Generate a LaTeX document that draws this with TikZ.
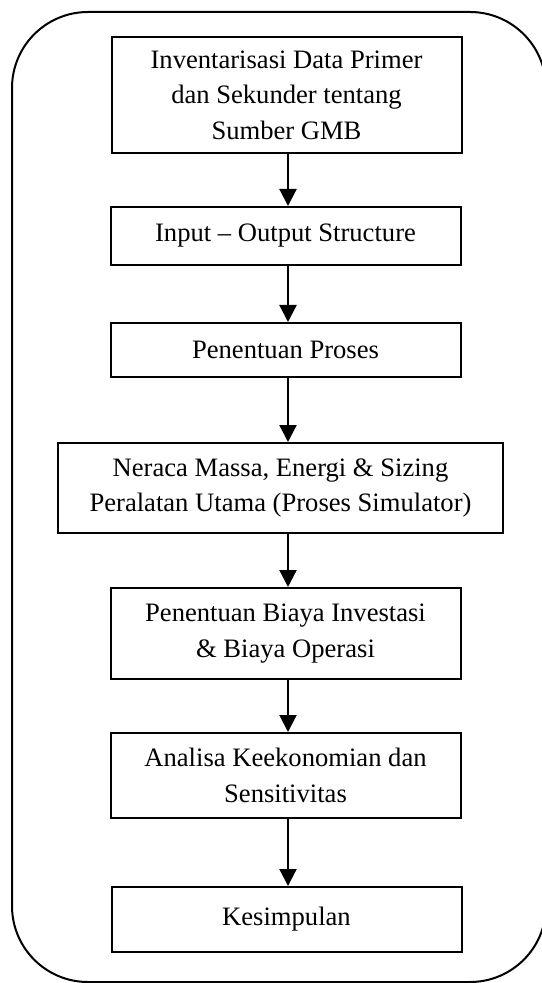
\documentclass[tikz,border=0pt]{standalone}
\usepackage{fontspec}
\setmainfont{Liberation Serif}
\usepackage{tikz}
\usetikzlibrary{arrows.meta,positioning}

\begin{document}
\begin{tikzpicture}[x=0.5pt, y=-0.5pt]
  \tikzstyle{tahap}=[rectangle, draw=black, line width=1pt, minimum width=175pt, align=center, font=\fontsize{13.3}{17.7}\selectfont, inner sep=0pt]
  \tikzstyle{panah}=[-{Triangle[length=8.5pt, width=8.5pt]}, line width=1.1pt]

  \useasboundingbox (0,0) rectangle (541,983);

  % Bingkai luar
  \draw[line width=1pt, rounded corners=38pt] (12,12) rectangle (546,982);

  % Tahapan
  \node[tahap, minimum height=58pt] (inv) at (286.5,95) {Inventarisasi Data Primer\\dan Sekunder tentang\\Sumber GMB};
  \node[tahap, minimum height=29pt] (io) at (285.5,236) {Input -- Output Structure};
  \node[tahap, minimum height=27pt] (proses) at (285.5,350) {Penentuan Proses};
  \node[tahap, minimum height=45pt, minimum width=222.5pt] (neraca) at (280.5,488) {Neraca Massa, Energi \& Sizing\\Peralatan Utama (Proses Simulator)};
  \node[tahap, minimum height=45.5pt] (biaya) at (285.5,633.5) {Penentuan Biaya Investasi\\\& Biaya Operasi};
  \node[tahap, minimum height=42.5pt] (analisa) at (285.5,775.5) {Analisa Keekonomian dan\\Sensitivitas};
  \node[tahap, minimum height=32.5pt] (simpul) at (286.5,919.5) {Kesimpulan};

  % Panah
  \draw[panah] ([xshift=0.75pt]inv.south) -- ([xshift=0.75pt]inv.south |- io.north);
  \draw[panah] ([xshift=1.25pt]io.south) -- ([xshift=1.25pt]io.south |- proses.north);
  \draw[panah] ([xshift=1.25pt]proses.south) -- ([xshift=1.25pt]proses.south |- neraca.north);
  \draw[panah] ([xshift=1.25pt]biaya.north |- neraca.south) -- ([xshift=1.25pt]biaya.north);
  \draw[panah] ([xshift=1.25pt]biaya.south) -- ([xshift=1.25pt]biaya.south |- analisa.north);
  \draw[panah] ([xshift=1.25pt]analisa.south) -- ([xshift=1.25pt]analisa.south |- simpul.north);
\end{tikzpicture}
\end{document}
